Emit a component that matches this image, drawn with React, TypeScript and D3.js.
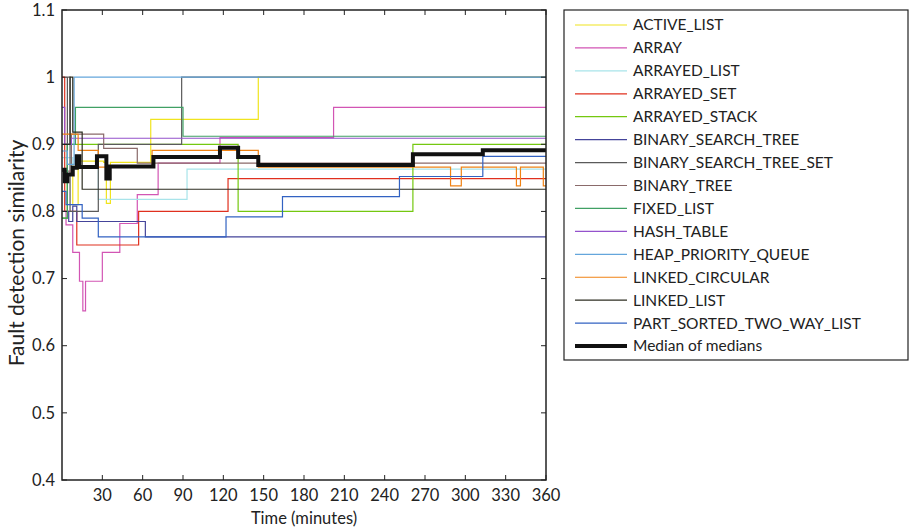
import React, { useEffect, useRef } from "react";
import * as d3 from "d3";

type Pt = [number, number];

// axis ticks
const xTicks = [30, 60, 90, 120, 150, 180, 210, 240, 270, 300, 330, 360];
const yTicks = [0.4, 0.5, 0.6, 0.7, 0.8, 0.9, 1, 1.1];

// step series: [minute, similarity] at each change
const activeList: Pt[] = [[0, 0.8], [4, 0.87], [8, 0.81], [12, 0.875], [31, 0.873], [33, 0.812], [36, 0.873], [66, 0.937], [146, 1.0]];
const array: Pt[] = [[0, 0.8], [3, 0.78], [8, 0.739], [13, 0.696], [15.5, 0.652], [17.5, 0.696], [30, 0.739], [43, 0.782], [56, 0.825], [71.5, 0.872], [117.5, 0.91], [202, 0.955]];
const arrayedList: Pt[] = [[0, 0.88], [8, 0.864], [27, 0.818], [93, 0.863]];
const arrayedSet: Pt[] = [[0, 1.0], [2, 0.8], [11, 0.75], [57, 0.8], [123.5, 0.849]];
const arrayedStack: Pt[] = [[0, 0.79], [4, 0.9], [131, 0.8], [261, 0.9]];
const binarySearchTree: Pt[] = [[0, 0.8], [5, 0.785], [8, 0.808], [11, 0.785], [62, 0.762]];
const binarySearchTreeSet: Pt[] = [[0, 0.86], [4, 1.0], [6, 0.8], [27, 0.9], [89, 1.0]];
const binaryTree: Pt[] = [[0, 0.86], [7, 0.915], [31, 0.894], [56, 0.872]];
const fixedList: Pt[] = [[0, 0.79], [4, 0.9], [10, 0.955], [90, 0.912]];
const hashTable: Pt[] = [[0, 0.955], [2, 0.9], [7, 0.909]];
const heapPriorityQueue: Pt[] = [[0, 0.89], [4, 0.87], [9, 1.0]];
const linkedCircular: Pt[] = [[0, 0.915], [12, 0.891], [27, 0.866], [67, 0.891], [146, 0.866], [289, 0.838], [297, 0.866], [338, 0.838], [341, 0.866], [358, 0.838]];
const linkedList: Pt[] = [[0, 0.9], [6, 1.0], [8, 0.918], [15, 0.833]];
const partSorted: Pt[] = [[0, 0.83], [3, 0.81], [15, 0.79], [27, 0.762], [122, 0.792], [164, 0.822], [251, 0.852], [313, 0.882]];
const median: Pt[] = [[0, 0.862], [2, 0.845], [4, 0.855], [8, 0.865], [11, 0.882], [13, 0.866], [26, 0.882], [33, 0.849], [35.5, 0.867], [68, 0.881], [117.5, 0.895], [131, 0.881], [146, 0.869], [261, 0.885], [313, 0.891]];

const names = [
  "ACTIVE_LIST", "ARRAY", "ARRAYED_LIST", "ARRAYED_SET", "ARRAYED_STACK",
  "BINARY_SEARCH_TREE", "BINARY_SEARCH_TREE_SET", "BINARY_TREE", "FIXED_LIST",
  "HASH_TABLE", "HEAP_PRIORITY_QUEUE", "LINKED_CIRCULAR", "LINKED_LIST",
  "PART_SORTED_TWO_WAY_LIST", "Median of medians",
];
const seriesData = [
  activeList, array, arrayedList, arrayedSet, arrayedStack, binarySearchTree,
  binarySearchTreeSet, binaryTree, fixedList, hashTable, heapPriorityQueue,
  linkedCircular, linkedList, partSorted, median,
];
const colors = [
  "#f0e41e", "#d255b4", "#a8e4ea", "#e0301e", "#74c810", "#44449a",
  "#5a5a5a", "#8a6a6a", "#40a064", "#9452cc", "#64a6dc", "#f08214",
  "#2e2e22", "#3262c2", "#111111",
];

const FONT = "Lato, 'Open Sans', sans-serif";

const App = () => {
  const svgRef = useRef<SVGSVGElement>(null);

  useEffect(() => {
    const svg = d3.select(svgRef.current);
    svg.selectAll("*").remove();

    const left = 62, right = 546, top = 10, bottom = 480;
    const x = d3.scaleLinear().domain([0, 360]).range([left, right]);
    const y = d3.scaleLinear().domain([0.4, 1.1]).range([bottom, top]);

    const line = d3
      .line<Pt>()
      .x((d) => x(d[0]))
      .y((d) => y(d[1]))
      .curve(d3.curveStepAfter);

    const plot = svg.append("g");
    seriesData.forEach((s, i) => {
      const pts: Pt[] = [...s, [360, s[s.length - 1][1]]];
      const isMedian = i === seriesData.length - 1;
      plot
        .append("path")
        .datum(pts)
        .attr("d", line)
        .attr("fill", "none")
        .attr("stroke", colors[i])
        .attr("stroke-width", isMedian ? 4 : 1.2);
    });

    // frame
    svg
      .append("rect")
      .attr("x", left)
      .attr("y", top)
      .attr("width", right - left)
      .attr("height", bottom - top)
      .attr("fill", "none")
      .attr("stroke", "#222")
      .attr("stroke-width", 1.5);

    // inward ticks, MATLAB style
    const tickLen = 5;
    const tk = svg.append("g").attr("stroke", "#222").attr("stroke-width", 1);
    xTicks.forEach((t) => {
      tk.append("line").attr("x1", x(t)).attr("x2", x(t)).attr("y1", bottom).attr("y2", bottom - tickLen);
      tk.append("line").attr("x1", x(t)).attr("x2", x(t)).attr("y1", top).attr("y2", top + tickLen);
    });
    yTicks.forEach((t) => {
      tk.append("line").attr("x1", left).attr("x2", left + tickLen).attr("y1", y(t)).attr("y2", y(t));
      tk.append("line").attr("x1", right).attr("x2", right - tickLen).attr("y1", y(t)).attr("y2", y(t));
    });

    const lab = svg.append("g").attr("font-family", FONT).attr("font-size", 16.5).attr("fill", "#222");
    xTicks.forEach((t) => {
      lab.append("text").attr("x", x(t)).attr("y", bottom + 21).attr("text-anchor", "middle").text(t);
    });
    yTicks.forEach((t) => {
      lab
        .append("text")
        .attr("x", left - 7)
        .attr("y", y(t))
        .attr("dy", "0.35em")
        .attr("text-anchor", "end")
        .text(String(t));
    });

    svg
      .append("text")
      .attr("x", (left + right) / 2)
      .attr("y", 524)
      .attr("text-anchor", "middle")
      .attr("font-family", FONT)
      .attr("font-size", 16.5)
      .attr("fill", "#222")
      .text("Time (minutes)");

    svg
      .append("text")
      .attr("transform", `translate(24, ${(top + bottom) / 2 + 8}) rotate(-90)`)
      .attr("text-anchor", "middle")
      .attr("font-family", FONT)
      .attr("font-size", 21)
      .attr("fill", "#222")
      .text("Fault detection similarity");

    // legend
    const lg = svg.append("g");
    lg.append("rect")
      .attr("x", 564)
      .attr("y", 10)
      .attr("width", 344)
      .attr("height", 350)
      .attr("fill", "white")
      .attr("stroke", "#222")
      .attr("stroke-width", 1.2);
    names.forEach((n, i) => {
      const yy = 25 + i * 22.93;
      lg.append("line")
        .attr("x1", 575)
        .attr("x2", 627)
        .attr("y1", yy)
        .attr("y2", yy)
        .attr("stroke", colors[i])
        .attr("stroke-width", i === names.length - 1 ? 4 : 1.2);
      lg.append("text")
        .attr("x", 633)
        .attr("y", yy)
        .attr("dy", "0.35em")
        .attr("font-family", FONT)
        .attr("font-size", 15.5)
        .attr("fill", "#222")
        .text(n);
    });
  }, []);

  return (
    <svg
      ref={svgRef}
      width={910}
      height={531}
      style={{ position: "absolute", left: 0, top: 0, background: "white" }}
    />
  );
};

export default App;
